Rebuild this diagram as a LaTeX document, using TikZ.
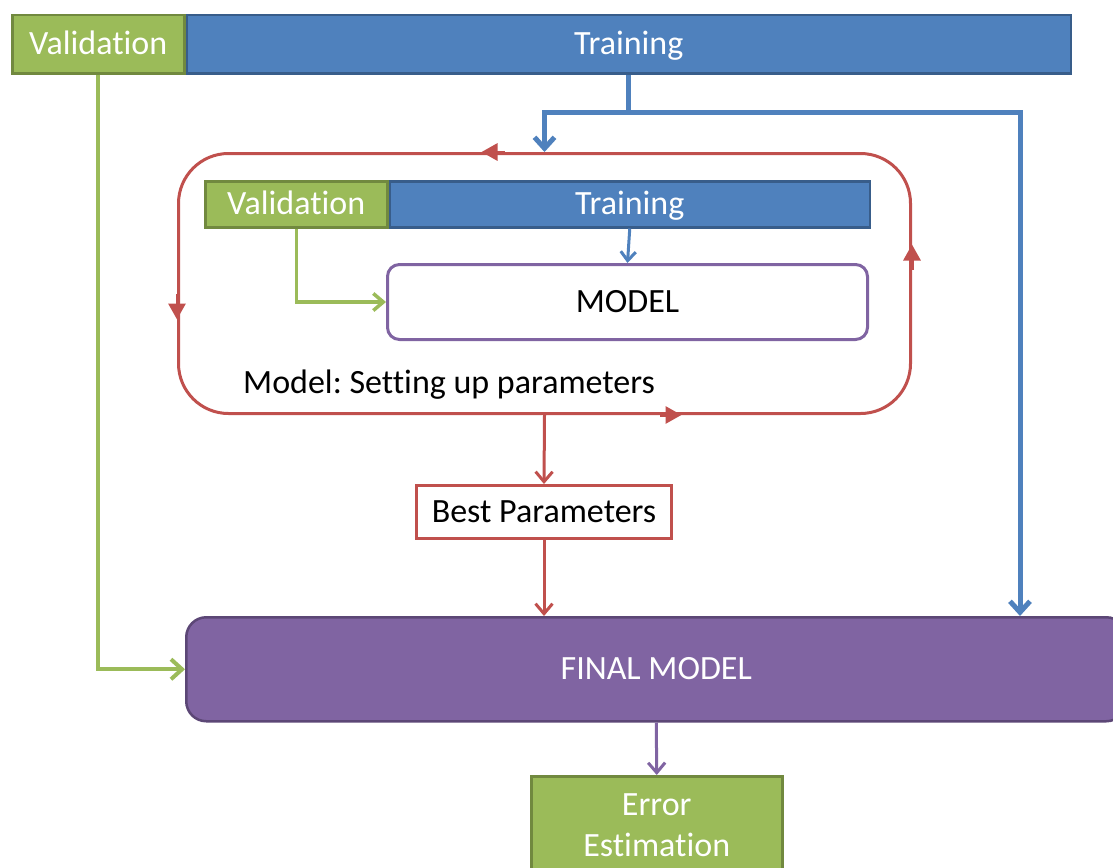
\documentclass[tikz,border=0pt]{standalone}
\usepackage{fontspec}
\setmainfont{Carlito}[Ligatures=NoCommon]
\usetikzlibrary{arrows.meta}

\definecolor{valgreen}{HTML}{9BBB59}
\definecolor{valgreenD}{HTML}{71893F}
\definecolor{trainblue}{HTML}{4F81BD}
\definecolor{trainblueD}{HTML}{385D8A}
\definecolor{loopred}{HTML}{C0504D}
\definecolor{modelpurple}{HTML}{8064A2}
\definecolor{modelpurpleD}{HTML}{5C4776}

\frenchspacing
\begin{document}
\begin{tikzpicture}[x=1pt,y=-1pt,
    every node/.style={font=\fontsize{34}{41}\selectfont, inner sep=0pt, text height=21pt, text depth=0pt},
    greenbox/.style={draw=valgreenD, fill=valgreen, line width=2.5pt, text=white},
    bluebox/.style={draw=trainblueD, fill=trainblue, line width=2.5pt, text=white},
    loopbox/.style={draw=loopred, line width=3pt, rounded corners=50pt},
    modelbox/.style={draw=modelpurple, fill=white, line width=3pt, rounded corners=12pt},
    bestbox/.style={draw=loopred, fill=white, line width=3pt},
    finalbox/.style={draw=modelpurpleD, fill=modelpurple, line width=2.5pt, rounded corners=20pt, text=white},
    blueline/.style={draw=trainblue, line width=5pt},
    greenline/.style={draw=valgreen, line width=4pt},
    redline/.style={draw=loopred, line width=3pt},
    barb/.style={-{Straight Barb[length=11pt,width=20pt]}},
    ]
    \useasboundingbox (0,0) rectangle (1113,867);

    % outer split of the data
    \node[greenbox, minimum width=172, minimum height=58, anchor=north west] (val) at (11,14) {Validation};
    \node[bluebox, minimum width=884, minimum height=58, anchor=west] (train) at (val.east) {Training};

    % parameter loop
    \node[loopbox, minimum width=732, minimum height=260, anchor=north west] (loop) at (177,152) {};
    \node[greenbox, minimum width=182, minimum height=46, anchor=north west] (ival) at (204,180) {Validation};
    \node[bluebox, minimum width=480, minimum height=46, anchor=west] (itrain) at (ival.east) {Training};
    \node[modelbox, minimum width=480, minimum height=75, anchor=north west] (model) at (386,263) {MODEL};
    \node[anchor=west] (setup) at (243,383) {Model: Setting up parameters};

    \node[bestbox, minimum width=255, minimum height=53, anchor=north west] (best) at (415,484) {Best Parameters};
    \node[finalbox, minimum width=940, minimum height=104, anchor=north west] (final) at (185,616) {FINAL MODEL};
    \node[greenbox, minimum width=251, minimum height=98, text height=62pt, align=center, anchor=north west] (error) at (530,775) {Error\\Estimation};

    % blue connectors
    \coordinate (bsplit) at (train.south |- 0,112);
    \coordinate (bleft) at (loop.north |- 0,112);
    \coordinate (bright) at (1020,112);
    \draw[blueline] (train.south) -- (bsplit);
    \draw[blueline, barb] (bsplit) -- (bleft) -- (loop.north);
    \draw[blueline, barb] (bsplit) -- (bright) -- (bright |- final.north);
    \draw[draw=trainblue, line width=3pt, -{Straight Barb[length=9pt,width=15pt]}] (itrain.south) -- (model.north);

    % green connectors
    \draw[greenline, barb] (val.south) -- (val.south |- final.west) -- (final.west);
    \draw[draw=valgreen, line width=3.5pt, -{Straight Barb[length=10pt,width=17pt]}] (ival.south) -- (ival.south |- model.west) -- (model.west);

    % arrows around the loop
    \draw[redline, -{Triangle[length=16pt,width=17pt]}] ([xshift=-40]loop.north) -- ([xshift=-63]loop.north);
    \draw[redline, -{Triangle[length=16pt,width=17pt]}] ([yshift=-10]loop.west) -- ([yshift=-36]loop.west);
    \draw[redline, -{Triangle[length=16pt,width=17pt]}] ([xshift=115]loop.south) -- ([xshift=137]loop.south);
    \draw[redline, -{Triangle[length=16pt,width=17pt]}] ([yshift=14]loop.east) -- ([yshift=39]loop.east);

    % red and purple connectors
    \draw[redline, -{Straight Barb[length=10pt,width=17pt]}] (loop.south) -- (best.north);
    \draw[redline, -{Straight Barb[length=10pt,width=17pt]}] (best.south) -- (best.south |- final.north);
    \draw[draw=modelpurple, line width=3pt, -{Straight Barb[length=10pt,width=17pt]}] (final.south) -- (error.north);
\end{tikzpicture}
\end{document}
